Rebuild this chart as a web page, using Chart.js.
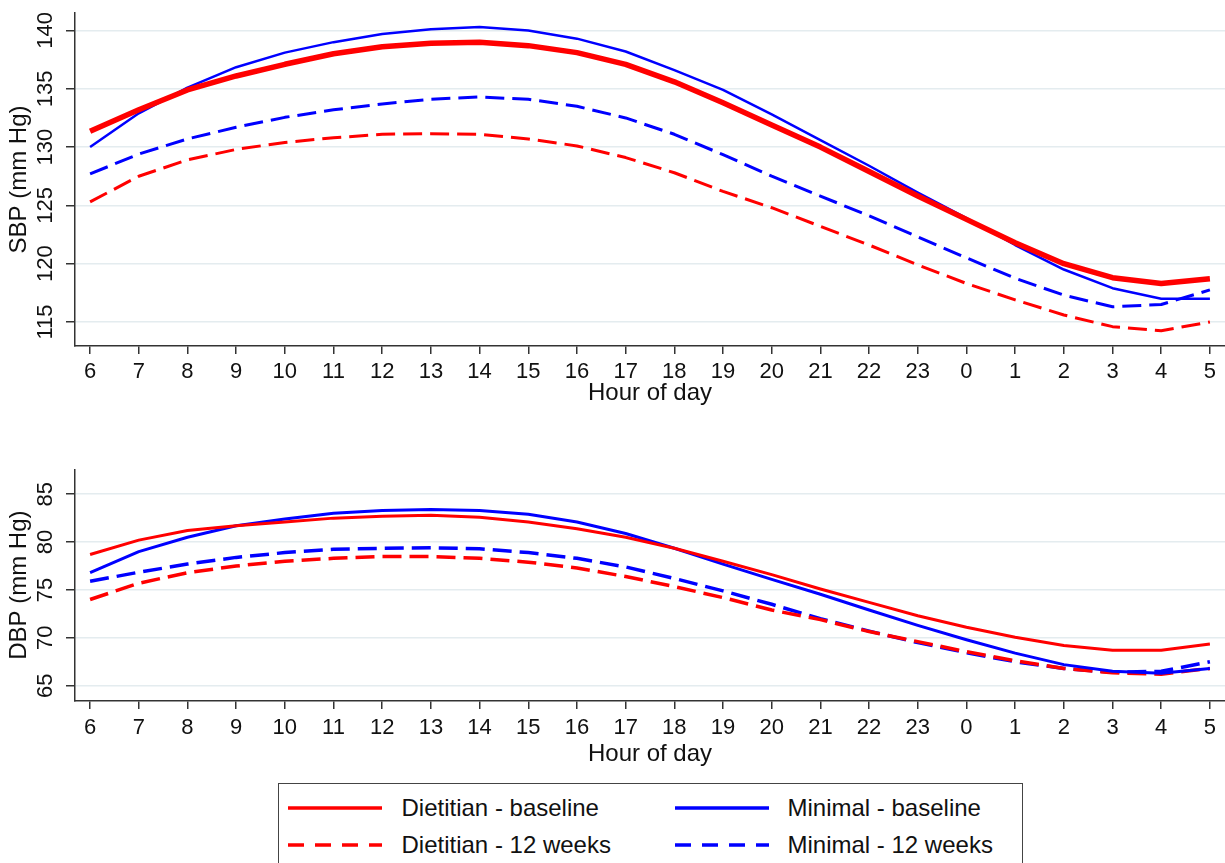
<!DOCTYPE html>
<html><head><meta charset="utf-8">
<script src="https://cdn.jsdelivr.net/npm/chart.js@4.4.1/dist/chart.umd.min.js"></script>
<style>
html,body{margin:0;padding:0;background:#fff;overflow:hidden;width:1225px;height:863px;}
#c1wrap{position:absolute;left:0;top:0;width:1225px;height:420px;}
#c2wrap{position:absolute;left:0;top:450px;width:1225px;height:330px;}
#legend{position:absolute;left:278px;top:783px;width:745px;height:120px;border:1.5px solid #444;box-sizing:border-box;font-family:"Liberation Sans",Arial,sans-serif;font-size:24px;color:#111;}
.lg-sample{position:absolute;}
.lg-text{position:absolute;line-height:30px;white-space:nowrap;}
</style>
</head><body>
<div id="c1wrap"><canvas id="c1"></canvas></div>
<div id="c2wrap"><canvas id="c2"></canvas></div>
<div id="legend"></div>
<script>
// ---- data ----
const hourLabels = ['6','7','8','9','10','11','12','13','14','15','16','17','18','19','20','21','22','23','0','1','2','3','4','5'];

const sbpDietitianBaseline = [131.35,133.2,134.9,136.1,137.1,138.0,138.6,138.9,139.0,138.7,138.1,137.1,135.6,133.8,131.9,130.0,127.9,125.8,123.8,121.8,120.0,118.8,118.3,118.7];
const sbpMinimalBaseline   = [130.0,132.9,135.1,136.85,138.1,139.0,139.7,140.1,140.3,140.0,139.3,138.2,136.6,134.9,132.8,130.6,128.4,126.1,123.9,121.6,119.5,117.9,117.0,117.0];
const sbpDietitian12w      = [125.3,127.5,128.9,129.8,130.4,130.8,131.1,131.15,131.1,130.7,130.1,129.1,127.8,126.2,124.8,123.2,121.6,119.9,118.3,116.9,115.6,114.6,114.25,115.0];
const sbpMinimal12w        = [127.7,129.4,130.7,131.7,132.55,133.2,133.7,134.1,134.3,134.1,133.5,132.5,131.1,129.35,127.5,125.8,124.1,122.3,120.5,118.75,117.3,116.3,116.5,117.75];

const dbpDietitianBaseline = [78.7,80.2,81.2,81.7,82.1,82.5,82.7,82.8,82.6,82.1,81.4,80.5,79.35,78.0,76.6,75.1,73.7,72.3,71.1,70.05,69.2,68.7,68.7,69.35];
const dbpMinimalBaseline   = [76.8,79.0,80.5,81.7,82.4,83.0,83.3,83.4,83.3,82.9,82.1,80.9,79.35,77.7,76.1,74.55,72.9,71.3,69.8,68.4,67.2,66.5,66.3,66.8];
const dbpDietitian12w      = [74.0,75.7,76.8,77.5,78.0,78.3,78.5,78.5,78.3,77.9,77.3,76.4,75.35,74.2,72.9,71.9,70.65,69.6,68.55,67.6,66.8,66.35,66.2,66.8];
const dbpMinimal12w        = [75.9,76.85,77.7,78.4,78.9,79.25,79.35,79.4,79.3,78.9,78.3,77.4,76.2,74.9,73.5,72.0,70.7,69.5,68.45,67.5,66.8,66.4,66.5,67.5];

const sbpTicks = [115,120,125,130,135,140];
const dbpTicks = [65,70,75,80,85];

const seriesNames = ['Dietitian - baseline','Minimal - baseline','Dietitian - 12 weeks','Minimal - 12 weeks'];
const seriesColors = ['#ff0000','#0000ff','#ff0000','#0000ff'];
const seriesDash = [[],[],[19,8],[19,8]];

// ---- helpers ----
const FONT = '"Liberation Sans", Arial, sans-serif';
const INK = '#111';
const AXIS = '#333';
Chart.defaults.font.family = FONT;
Chart.defaults.color = INK;

function xy(vals){ return vals.map((v,i)=>({x:i,y:v})); }

function makeChart(id, cfg){
  const datasets = cfg.series.map((vals,k)=>({
    label: seriesNames[k],
    data: xy(vals),
    borderColor: seriesColors[k],
    borderWidth: cfg.widths[k],
    borderDash: seriesDash[k],
    pointRadius: 0,
    tension: 0,
    fill: false,
    borderJoinStyle: 'round',
    order: cfg.order[k]
  }));
  return new Chart(document.getElementById(id), {
    type: 'line',
    data: { datasets },
    options: {
      responsive: true,
      maintainAspectRatio: false,
      animation: false,
      devicePixelRatio: 1,
      layout: { padding: { top: cfg.padTop, left: 0, right: 0, bottom: 0 } },
      plugins: { legend: { display: false }, tooltip: { enabled: false } },
      scales: {
        x: {
          type: 'linear',
          min: -0.31, max: 23.31,
          afterBuildTicks: s => { s.ticks = hourLabels.map((h,i)=>({value:i})); },
          afterFit: s => { s.height = cfg.xHeight; s.paddingLeft = 0; s.paddingRight = 0; },
          ticks: {
            callback: v => hourLabels[v],
            font: { size: 22 }, color: INK, padding: cfg.xTickPad,
            maxRotation: 0, minRotation: 0, autoSkip: false
          },
          grid: { display: true, drawOnChartArea: false, drawTicks: true, tickLength: 8, tickColor: AXIS, lineWidth: 1.5, color: AXIS },
          border: { display: true, color: AXIS, width: 1.5 },
          title: { display: true, text: 'Hour of day', font: { size: 24 }, color: INK, padding: { top: 0, bottom: cfg.xTitlePad } }
        },
        y: {
          min: cfg.yMin, max: cfg.yMax,
          afterBuildTicks: s => { s.ticks = cfg.yTicks.map(v=>({value:v})); },
          afterFit: s => { s.width = 75; s.paddingTop = 0; s.paddingBottom = 0; },
          ticks: {
            font: { size: 22 }, color: INK, padding: cfg.yTickPad,
            minRotation: 90, maxRotation: 90, crossAlign: 'center', autoSkip: false
          },
          grid: { display: true, drawTicks: true, tickLength: 9, tickColor: AXIS, color: '#e4ecef', lineWidth: 1.5 },
          border: { display: true, color: AXIS, width: 1.5 },
          title: { display: true, text: cfg.yTitle, font: { size: 24 }, color: INK, padding: { top: 4.6, bottom: 0 } }
        }
      }
    }
  });
}

makeChart('c1', {
  series: [sbpDietitianBaseline, sbpMinimalBaseline, sbpDietitian12w, sbpMinimal12w],
  widths: [5.5, 2.5, 3, 3],
  order: [1, 2, 3, 4],
  yMin: 112.94, yMax: 141.5, yTicks: sbpTicks, yTitle: 'SBP (mm Hg)',
  padTop: 13, xHeight: 74, xTickPad: 4.8, xTitlePad: 12.1, yTickPad: 1.6
});

makeChart('c2', {
  series: [dbpDietitianBaseline, dbpMinimalBaseline, dbpDietitian12w, dbpMinimal12w],
  widths: [3, 3, 3.5, 3.5],
  order: [1, 2, 3, 4],
  yMin: 63.4, yMax: 87.6, yTicks: dbpTicks, yTitle: 'DBP (mm Hg)',
  padTop: 19.3, xHeight: 79, xTickPad: 6.1, xTitlePad: 11.1, yTickPad: 7.8
});

// ---- legend (HTML) ----
(function(){
  const lg = document.getElementById('legend');
  const bx = 278 + 1.5, by = 783 + 1.5;
  const rowsY = [808, 845];
  const cols = [{sx:288, tx:402},{sx:675, tx:788}];
  const place = [[0,0],[0,1],[1,0],[1,1]]; // [row, col] per series
  seriesNames.forEach((name,k)=>{
    const [r,c] = place[k];
    const cy = rowsY[r];
    const svgNS = 'http://www.w3.org/2000/svg';
    const svg = document.createElementNS(svgNS,'svg');
    svg.setAttribute('width','94'); svg.setAttribute('height','20');
    svg.setAttribute('class','lg-sample');
    svg.style.left = (cols[c].sx - bx) + 'px';
    svg.style.top = (cy - by - 10) + 'px';
    const ln = document.createElementNS(svgNS,'line');
    ln.setAttribute('x1','0'); ln.setAttribute('x2','94');
    ln.setAttribute('y1','10'); ln.setAttribute('y2','10');
    ln.setAttribute('stroke', seriesColors[k]);
    ln.setAttribute('stroke-width','3.5');
    if (seriesDash[k].length) ln.setAttribute('stroke-dasharray','16 11');
    svg.appendChild(ln);
    lg.appendChild(svg);
    const t = document.createElement('div');
    t.className = 'lg-text';
    t.textContent = name;
    t.style.left = (cols[c].tx - bx) + 'px';
    t.style.top = (cy - by - 15) + 'px';
    lg.appendChild(t);
  });
})();
</script>
</body></html>
